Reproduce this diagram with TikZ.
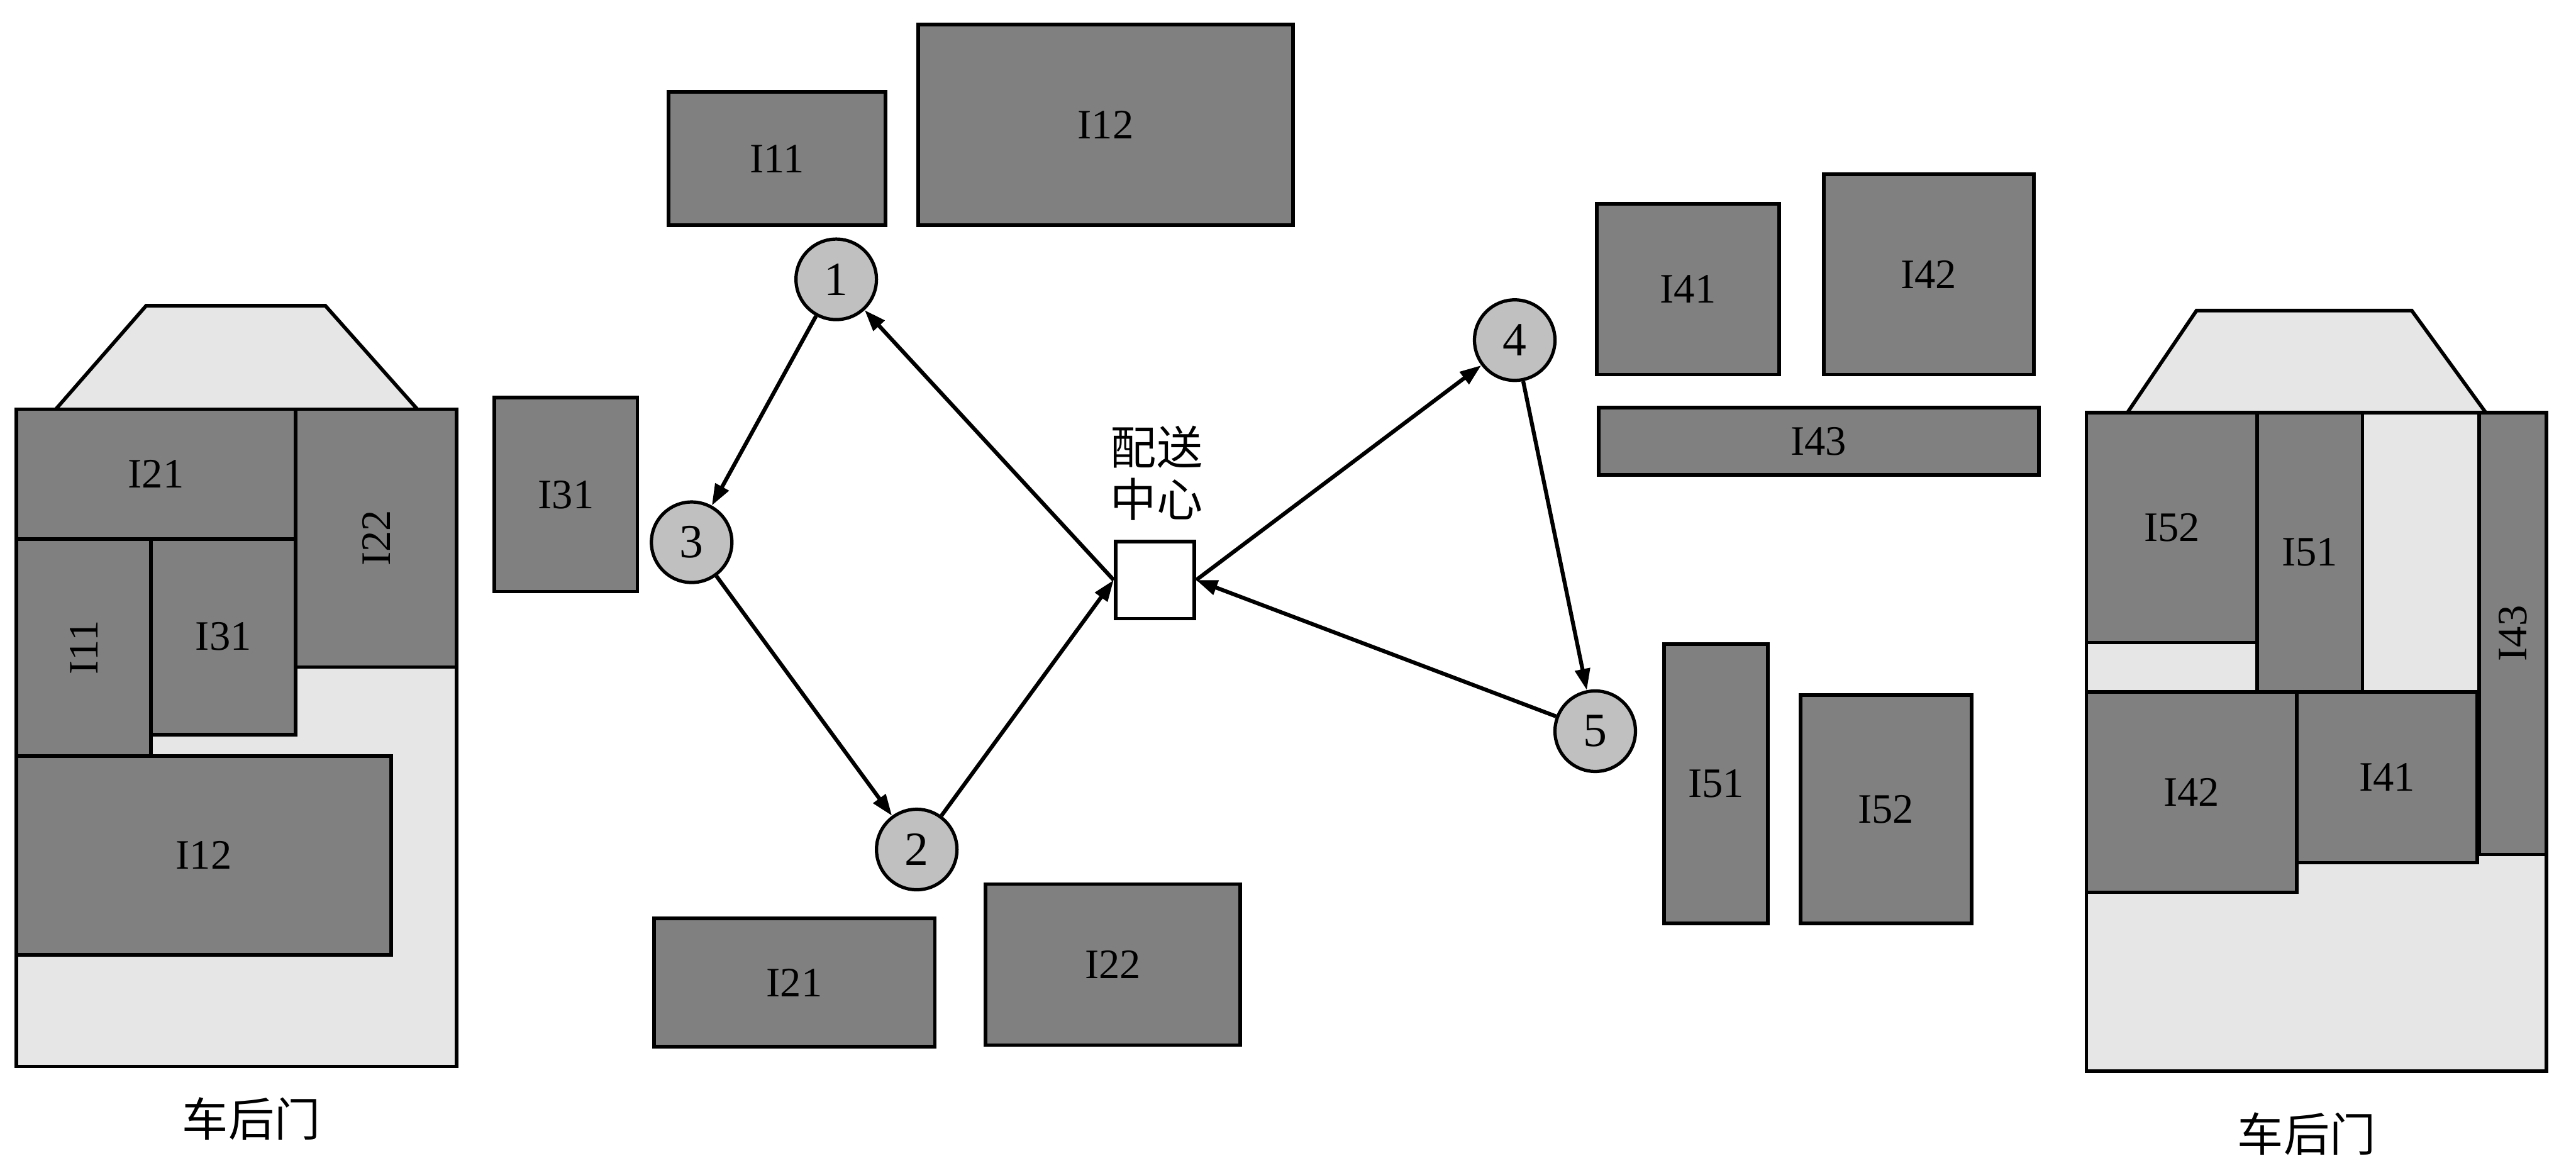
\documentclass[tikz,border=0pt]{standalone}
\usepackage{fontspec}
\setmainfont{Liberation Serif}
\newfontfamily\cjk{Noto Sans CJK SC}
\usetikzlibrary{arrows.meta,fit}
\definecolor{boxgray}{HTML}{808080}
\definecolor{truckgray}{HTML}{E6E6E6}
\definecolor{nodegray}{HTML}{C0C0C0}
\tikzset{
  ibox/.style={draw=black, fill=boxgray, line width=2.2pt, inner sep=0pt},
  lab/.style={font=\fontsize{25.5}{28}\selectfont, inner sep=0pt},
  truck/.style={draw=black, fill=truckgray, line width=2.2pt, line join=miter},
  cust/.style={circle, draw=black, fill=nodegray, line width=2pt, minimum size=49pt, inner sep=0pt, font=\fontsize{29}{32}\selectfont},
  depot/.style={draw=black, fill=white, line width=2.2pt, minimum width=48pt, minimum height=47pt, inner sep=0pt},
  route/.style={line width=2.4pt, -{Triangle[length=13pt,width=9pt]}},
  cjklab/.style={font=\cjk\fontsize{28}{32}\selectfont, inner sep=0pt, align=center}
}
\newcommand\ibox[6]{\node[ibox, fit={(#2,#3) (#4,#5)}] (#1) {}; \node[lab] at (#1.center) {#6};}
\newcommand\iboxr[6]{\node[ibox, fit={(#2,#3) (#4,#5)}] (#1) {}; \node[lab, rotate=90] at (#1.center) {#6};}
\begin{document}
\begin{tikzpicture}[x=1pt,y=-1pt]
\useasboundingbox (0,0) rectangle (1568,715);

% ---------- left truck ----------
\draw[truck] (34,249) -- (89,186) -- (198,186) -- (254,249);
\node[truck, inner sep=0pt, fit={(10,249) (278,649)}] (ltruck) {};
\ibox{lt21}{10}{249}{180}{328}{I21}
\iboxr{lt22}{180}{249}{278}{406}{I22}
\iboxr{lt11}{10}{328}{92}{460}{I11}
\ibox{lt31}{92}{328}{180}{447}{I31}
\ibox{lt12}{10}{460}{238}{581}{I12}
\node[cjklab] (ldoor) at (153,681) {车后门};

% ---------- right truck ----------
\draw[truck] (1295,251) -- (1337,189) -- (1468,189) -- (1513,251);
\node[truck, inner sep=0pt, fit={(1270,251) (1550,652)}] (rtruck) {};
\ibox{rt52}{1270}{251}{1374}{391}{I52}
\ibox{rt51}{1374}{251}{1438}{421}{I51}
\iboxr{rt43}{1509}{251}{1550}{520}{I43}
\ibox{rt42}{1270}{421}{1398}{543}{I42}
\ibox{rt41}{1398}{421}{1508}{525}{I41}
\node[cjklab] (rdoor) at (1404,690) {车后门};

% ---------- items near customers ----------
\ibox{m11}{407}{56}{539}{137}{I11}
\ibox{m12}{559}{15}{787}{137}{I12}
\ibox{m31}{301}{242}{388}{360}{I31}
\ibox{m21}{398}{559}{569}{637}{I21}
\ibox{m22}{600}{538}{755}{636}{I22}
\ibox{m41}{972}{124}{1083}{228}{I41}
\ibox{m42}{1110}{106}{1238}{228}{I42}
\ibox{m43}{973}{248}{1241}{289}{I43}
\ibox{m51}{1013}{392}{1076}{562}{I51}
\ibox{m52}{1096}{423}{1200}{562}{I52}

% ---------- customers and depot ----------
\node[cust] (c1) at (509,170) {1};
\node[cust] (c3) at (421,330) {3};
\node[cust] (c2) at (558,517) {2};
\node[cust] (c4) at (922,207) {4};
\node[cust] (c5) at (971,445) {5};
\node[depot] (dc) at (703,353) {};
\node[cjklab] (dclab) at (704,288) {配送\\中心};

% ---------- routes ----------
\draw[route] (dc.west) -- (c1);
\draw[route] (c1) -- (c3);
\draw[route] (c3) -- (c2);
\draw[route] (c2) -- (dc.west);
\draw[route] (dc.east) -- (c4);
\draw[route] (c4) -- (c5);
\draw[route] (c5) -- (dc.east);
\end{tikzpicture}
\end{document}
